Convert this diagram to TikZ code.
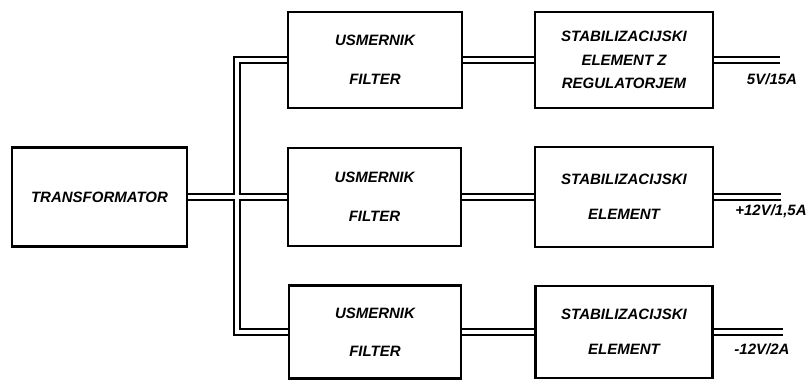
\documentclass[tikz,border=0pt]{standalone}
\usepackage{fontspec}
\setmainfont{Liberation Sans}
\pgfdeclarelayer{bg}
\pgfsetlayers{bg,main}
\begin{document}
\begin{tikzpicture}[x=1pt,y=-1pt,
  blk/.style={draw, line width=2.2pt, fill=white, inner sep=0pt, align=center,
    font=\fontsize{15}{18}\selectfont\bfseries\itshape},
  wireout/.style={line width=8pt, black},
  wirein/.style={line width=4.4pt, white},
  lbl/.style={font=\fontsize{15}{18}\selectfont\bfseries\itshape, inner sep=0pt}]
\useasboundingbox (0,0) rectangle (811,381);
% blocks
\node[blk, minimum width=175pt, minimum height=99pt] (T) at (99.5,197) {TRANSFORMATOR};
\node[blk, minimum width=174pt, minimum height=96pt] (U1) at (375,60) {USMERNIK\\[21pt]FILTER};
\node[blk, minimum width=178pt, minimum height=96pt] (S1) at (624,60) {STABILIZACIJSKI\\[5.5pt]ELEMENT Z\\[5.5pt]REGULATORJEM};
\node[blk, minimum width=173pt, minimum height=98pt] (U2) at (374.5,197) {USMERNIK\\[21pt]FILTER};
\node[blk, minimum width=178pt, minimum height=100pt] (S2) at (624,197) {STABILIZACIJSKI\\[17pt]ELEMENT};
\node[blk, minimum width=172pt, minimum height=93pt] (U3) at (375,332) {USMERNIK\\[20pt]FILTER};
\node[blk, minimum width=177pt, minimum height=92pt] (S3) at (624,332) {STABILIZACIJSKI\\[17pt]ELEMENT};
% free ends and bus corner
\coordinate (b3) at (237,332);
\coordinate (o1) at (780,60);
\coordinate (o2) at (781,197);
\coordinate (o3) at (783,332);
% output labels
\node[lbl] (l1) at (772,79) {5V/15A};
\node[lbl] (l2) at (771,211) {+12V/1,5A};
\node[lbl] (l3) at (762,349) {-12V/2A};
% double-line connectors
\begin{pgfonlayer}{bg}
\foreach \st in {wireout,wirein}{
  \draw[\st] (U1.west) -| (b3) -- (U3.west);
  \draw[\st] (T.east) -- (U2.west);
  \draw[\st] (U1.east) -- (S1.west);
  \draw[\st] (U2.east) -- (S2.west);
  \draw[\st] (U3.east) -- (S3.west);
  \draw[\st] (S1.east) -- (o1);
  \draw[\st] (S2.east) -- (o2);
  \draw[\st] (S3.east) -- (o3);
}
\end{pgfonlayer}
\end{tikzpicture}
\end{document}
